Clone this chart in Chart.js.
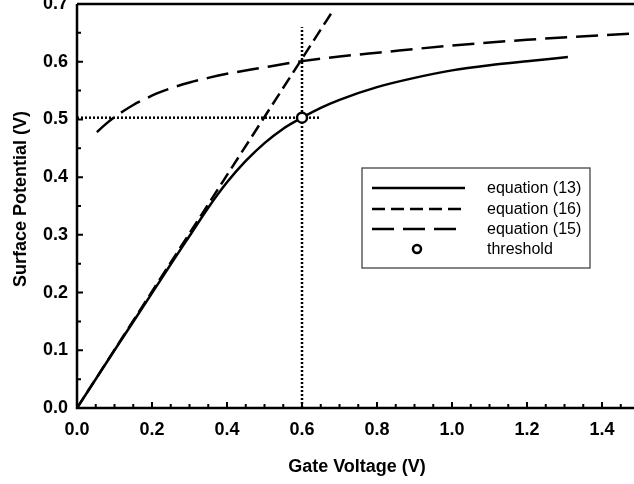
<!DOCTYPE html>
<html lang="en">
<head>
  <meta charset="UTF-8" />
  <title>Surface Potential vs Gate Voltage</title>
  <script src="https://cdn.jsdelivr.net/npm/chart.js"></script>
  <style>
    body { margin: 0; background: #fff; }
    canvas { display: block; }
  </style>
</head>
<body>
  <canvas id="chart" width="634" height="484"></canvas>

  <script>
    // values
    const eq13X = [0, 0.1, 0.2, 0.25, 0.3, 0.35, 0.4, 0.45, 0.5, 0.55, 0.6, 0.65, 0.7, 0.8, 0.9, 1.0, 1.1, 1.2, 1.309];
    const eq13Y = [0, 0.1, 0.199, 0.249, 0.298, 0.347, 0.391, 0.428, 0.459, 0.484, 0.503, 0.52, 0.534, 0.556, 0.572, 0.585, 0.594, 0.601, 0.608];

    const eq16X = [0, 0.68];
    const eq16Y = [0, 0.686];

    const eq15X = [0.053, 0.075, 0.1, 0.125, 0.15, 0.18, 0.213, 0.25, 0.3, 0.35, 0.4, 0.488, 0.6, 0.7, 0.808, 1.0, 1.2, 1.485];
    const eq15Y = [0.478, 0.491, 0.504, 0.515, 0.525, 0.535, 0.545, 0.554, 0.564, 0.572, 0.579, 0.589, 0.601, 0.609, 0.616, 0.628, 0.638, 0.649];

    const thresholdX = [0.6];
    const thresholdY = [0.503];

    const hGuideX = [0, 0.648];
    const hGuideY = [0.503, 0.503];
    const vGuideX = [0.6, 0.6];
    const vGuideY = [0, 0.66];

    const xTicks = [0, 0.2, 0.4, 0.6, 0.8, 1.0, 1.2, 1.4];
    const yTicks = [0, 0.1, 0.2, 0.3, 0.4, 0.5, 0.6, 0.7];
    const legendLabels = ['equation (13)', 'equation (16)', 'equation (15)', 'threshold'];

    const FONT = "'Liberation Sans', Arial, sans-serif";
    const pts = (xs, ys) => xs.map((x, i) => ({ x: x, y: ys[i] }));

    // axes frame, inward ticks, titles and the boxed legend
    const framePlugin = {
      id: 'frame',
      afterDraw(chart) {
        const ctx = chart.ctx;
        const a = chart.chartArea;
        const xs = chart.scales.x, ys = chart.scales.y;
        ctx.save();
        ctx.strokeStyle = '#000';
        ctx.lineWidth = 2.5;
        ctx.beginPath();
        ctx.moveTo(a.left, a.top); ctx.lineTo(a.left, a.bottom); ctx.lineTo(a.right, a.bottom);
        ctx.moveTo(a.left, a.top); ctx.lineTo(a.right, a.top);
        ctx.stroke();

        ctx.lineWidth = 2;
        ctx.beginPath();
        for (let v = 0; v <= 1.46; v += 0.05) {
          const px = xs.getPixelForValue(v);
          const major = Math.abs(v / 0.2 - Math.round(v / 0.2)) < 1e-6;
          ctx.moveTo(px, a.bottom); ctx.lineTo(px, a.bottom - (major ? 6 : 4));
        }
        for (let v = 0; v <= 0.701; v += 0.05) {
          const py = ys.getPixelForValue(v);
          const major = Math.abs(v / 0.1 - Math.round(v / 0.1)) < 1e-6;
          ctx.moveTo(a.left, py); ctx.lineTo(a.left + (major ? 6 : 4), py);
        }
        ctx.stroke();

        ctx.fillStyle = '#000';
        ctx.font = 'bold 18px ' + FONT;
        ctx.textAlign = 'center';
        ctx.textBaseline = 'alphabetic';
        ctx.fillText('Gate Voltage (V)', 357, 472);
        ctx.save();
        ctx.translate(26, 199);
        ctx.rotate(-Math.PI / 2);
        ctx.fillText('Surface Potential (V)', 0, 0);
        ctx.restore();

        // legend
        const lx = 362, ly = 168, lw = 228, lh = 100;
        ctx.fillStyle = '#fff';
        ctx.fillRect(lx, ly, lw, lh);
        ctx.strokeStyle = '#444';
        ctx.lineWidth = 1.3;
        ctx.strokeRect(lx, ly, lw, lh);
        const rows = [188, 209, 229, 249];
        ctx.font = '16px ' + FONT;
        ctx.textAlign = 'left';
        ctx.textBaseline = 'middle';
        legendLabels.forEach((label, i) => {
          const ds = chart.data.datasets[i];
          const y = rows[i];
          ctx.strokeStyle = '#000';
          ctx.lineWidth = ds.borderWidth;
          ctx.setLineDash(ds.borderDash || []);
          if (ds.showLine === false) {
            ctx.setLineDash([]);
            ctx.lineWidth = ds.pointBorderWidth;
            ctx.beginPath();
            ctx.arc(417, y, 4, 0, Math.PI * 2);
            ctx.fillStyle = '#fff';
            ctx.fill();
            ctx.stroke();
          } else {
            ctx.beginPath();
            ctx.moveTo(372, y); ctx.lineTo(465, y);
            ctx.stroke();
          }
          ctx.setLineDash([]);
          ctx.fillStyle = '#000';
          ctx.fillText(label, 487, y + 1);
        });
        ctx.restore();
      }
    };

    new Chart(document.getElementById('chart'), {
      type: 'scatter',
      data: {
        datasets: [
          { label: legendLabels[0], data: pts(eq13X, eq13Y), showLine: true, borderColor: '#000', borderWidth: 2.5,
            pointRadius: 0, cubicInterpolationMode: 'monotone', order: 2 },
          { label: legendLabels[1], data: pts(eq16X, eq16Y), showLine: true, borderColor: '#000', borderWidth: 2.5,
            borderDash: [13, 6], pointRadius: 0, order: 3 },
          { label: legendLabels[2], data: pts(eq15X, eq15Y), showLine: true, borderColor: '#000', borderWidth: 2.5,
            borderDash: [22, 9], pointRadius: 0, cubicInterpolationMode: 'monotone', order: 3 },
          { label: legendLabels[3], data: pts(thresholdX, thresholdY), showLine: false, borderWidth: 2.5,
            pointRadius: 5, pointBackgroundColor: '#fff', pointBorderColor: '#000', pointBorderWidth: 2.5, order: 0 },
          { label: 'h', data: pts(hGuideX, hGuideY), showLine: true, borderColor: '#000', borderWidth: 2.5,
            borderDash: [2, 2], pointRadius: 0, order: 4 },
          { label: 'v', data: pts(vGuideX, vGuideY), showLine: true, borderColor: '#000', borderWidth: 2.5,
            borderDash: [2, 2], pointRadius: 0, order: 4 }
        ]
      },
      options: {
        responsive: false,
        animation: false,
        devicePixelRatio: 1,
        layout: { autoPadding: false, padding: { top: 4, right: 0, left: 0, bottom: 0 } },
        plugins: { legend: { display: false }, tooltip: { enabled: false } },
        scales: {
          x: {
            type: 'linear', min: 0, max: 1.4853,
            grid: { display: false, drawTicks: false }, border: { display: false },
            afterBuildTicks: s => { s.ticks = xTicks.map(v => ({ value: v })); },
            afterFit: s => { s.height = 76; s.paddingLeft = 0; s.paddingRight = 0; },
            ticks: { padding: 11, color: '#000', maxRotation: 0, autoSkip: false,
              font: { family: FONT, size: 18, weight: 'bold' }, callback: v => v.toFixed(1) }
          },
          y: {
            type: 'linear', min: 0, max: 0.7,
            grid: { display: false, drawTicks: false }, border: { display: false },
            afterBuildTicks: s => { s.ticks = yTicks.map(v => ({ value: v })); },
            afterFit: s => { s.width = 77; s.paddingTop = 0; s.paddingBottom = 0; },
            ticks: { padding: 9, color: '#000', autoSkip: false,
              font: { family: FONT, size: 18, weight: 'bold' }, callback: v => v.toFixed(1) }
          }
        }
      },
      plugins: [framePlugin]
    });
  </script>
</body>
</html>
